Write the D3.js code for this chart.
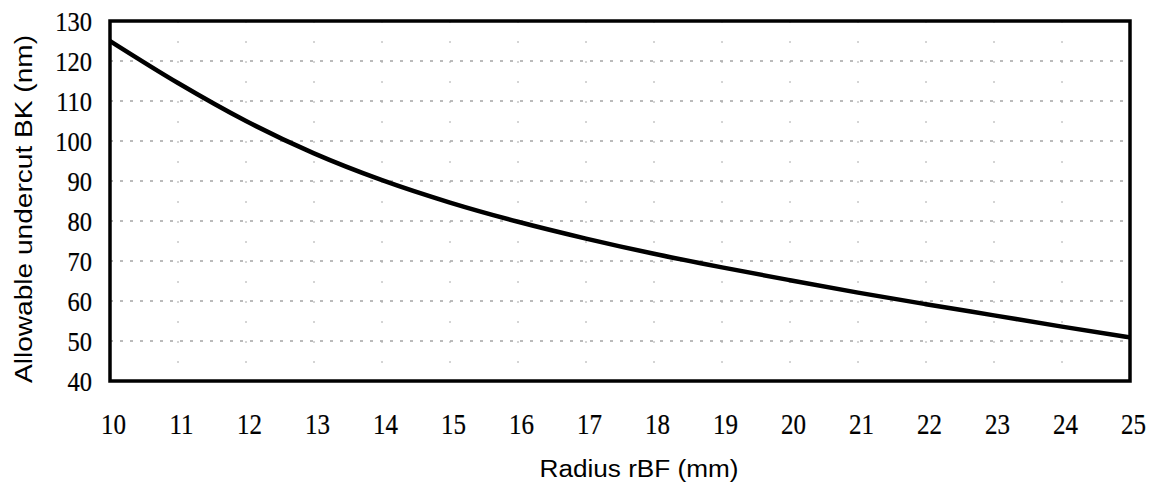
<!DOCTYPE html>
<html>
<head>
<meta charset="utf-8">
<script src="https://cdn.jsdelivr.net/npm/d3@7"></script>
<style>
html,body{margin:0;padding:0;background:#fff;}
svg{display:block;}
</style>
</head>
<body>
<svg id="chart" width="1152" height="485"></svg>
<script>
const radius = [10,11,12,13,14,15,16,17,18,19,20,21,22,23,24,25];
const undercut = [125,114.5,105,96.9,90.2,84.6,79.8,75.6,71.8,68.4,65.2,62.1,59.2,56.4,53.6,50.9];
const xTicks = [10,11,12,13,14,15,16,17,18,19,20,21,22,23,24,25];
const yTicks = [40,50,60,70,80,90,100,110,120,130];
const xTitle = "Radius rBF (mm)";
const yTitle = "Allowable undercut BK (nm)";

const svg = d3.select("#chart");
const L = 110, R = 1130, T = 21, B = 381;
const x = d3.scaleLinear().domain([10,25]).range([L,R]);
const y = d3.scaleLinear().domain([40,130]).range([B,T]);

// gridlines
svg.append("g").selectAll("line").data(yTicks.slice(1,-1)).join("line")
  .attr("x1",L).attr("x2",R).attr("y1",d=>y(d)).attr("y2",d=>y(d))
  .attr("stroke","#777").attr("stroke-width",1).attr("stroke-dasharray","3,7");
svg.append("g").selectAll("line").data(xTicks.slice(1,-1)).join("line")
  .attr("x1",d=>x(d)).attr("x2",d=>x(d)).attr("y1",T).attr("y2",B)
  .attr("stroke","#aaa").attr("stroke-width",1).attr("stroke-dasharray","2,18");

// axes (labels only)
const xAxis = d3.axisBottom(x).tickValues(xTicks).tickSize(0).tickPadding(0).tickFormat(d3.format("d"));
const gx = svg.append("g").attr("transform",`translate(0,${B})`).call(xAxis);
gx.select(".domain").remove();
gx.selectAll("text").attr("font-family","'Liberation Serif','Times New Roman',serif")
  .attr("font-size",25).attr("fill","#000").attr("stroke","#000").attr("stroke-width",0.2)
  .attr("dy",null).attr("y",0)
  .attr("transform","translate(3,53) scale(1,1.15)");

const yAxis = d3.axisLeft(y).tickValues(yTicks).tickSize(0).tickPadding(0).tickFormat(d3.format("d"));
const gy = svg.append("g").attr("transform",`translate(${L},0)`).call(yAxis);
gy.select(".domain").remove();
gy.selectAll(".tick text").each(function(){
  d3.select(this).attr("x",0).attr("dy",null).attr("y",0)
   .attr("font-family","'Liberation Serif','Times New Roman',serif")
   .attr("font-size",24.5).attr("fill","#000").attr("stroke","#000").attr("stroke-width",0.2)
   .attr("text-anchor","end")
   .attr("transform","translate(-18,9) scale(1,1.15)");
});

// curve
svg.append("path").datum(radius.map((r,i)=>[r,undercut[i]]))
  .attr("fill","none").attr("stroke","#000").attr("stroke-width",4.5)
  .attr("d", d3.line().x(d=>x(d[0])).y(d=>y(d[1])).curve(d3.curveMonotoneX));

// frame
svg.append("rect").attr("x",L).attr("y",T).attr("width",R-L).attr("height",B-T)
  .attr("fill","none").attr("stroke","#000").attr("stroke-width",3.5);

// titles
svg.append("text").attr("x",639).attr("y",477).attr("text-anchor","middle")
  .attr("font-family","'Liberation Sans',Arial,sans-serif").attr("font-size",23)
  .attr("textLength",199).attr("lengthAdjust","spacingAndGlyphs")
  .attr("fill","#000").text(xTitle);
svg.append("text").attr("transform","translate(32,209) rotate(-90)").attr("text-anchor","middle")
  .attr("font-family","'Liberation Sans',Arial,sans-serif").attr("font-size",23)
  .attr("textLength",348).attr("lengthAdjust","spacingAndGlyphs")
  .attr("fill","#000").text(yTitle);
</script>
</body>
</html>
